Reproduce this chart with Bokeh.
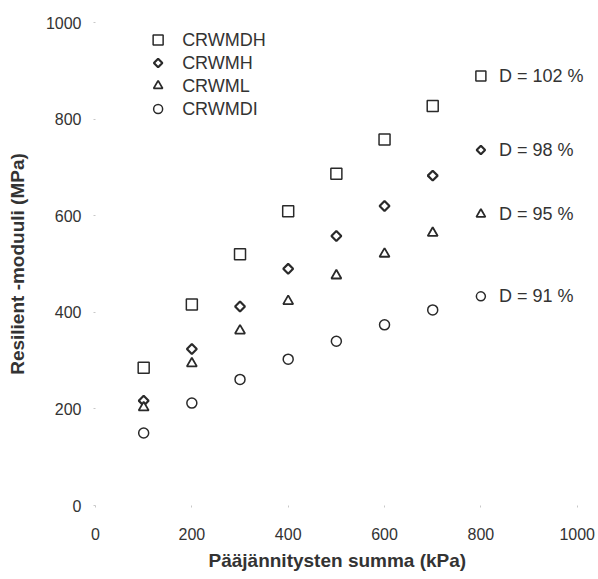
import math
from bokeh.plotting import figure
from bokeh.models import Range1d, ColumnDataSource, LabelSet, Title
from bokeh.core.properties import value
from bokeh.embed import file_html
from bokeh.resources import INLINE

# data
x_vals = [100, 200, 300, 400, 500, 600, 700]
crwmdh = [285, 416, 520, 609, 687, 758, 827]
crwmh = [217, 324, 412, 490, 558, 620, 683]
crwml = [203, 294, 362, 423, 476, 521, 564]
crwmdi = [150, 212, 261, 303, 340, 374, 405]
series_names = ["CRWMDH", "CRWMH", "CRWML", "CRWMDI"]
annot_labels = ["D = 102 %", "D = 98 %", "D = 95 %", "D = 91 %"]
ticks = [0, 200, 400, 600, 800, 1000]
x_title = "Pääjännitysten summa (kPa)"
y_title = "Resilient -moduuli (MPa)"

# layout (annotation anchor positions, in axis units)
legend_x = [130, 130, 130, 130]
legend_y = [964, 916, 869, 821]
annot_x = [800, 800, 800, 800]
annot_y = [889, 736, 603, 433]

FONT = "Liberation Sans"
INK = "#2a2a2a"
TXT = "#333333"

# x range runs a little past 1000 (no visible axis line) so the right-hand labels are not clipped
p = figure(width=598, height=579, output_backend="svg", toolbar_location=None,
           x_range=Range1d(0, 1040), y_range=Range1d(0, 1000),
           min_border_left=95, min_border_right=2, min_border_top=22, min_border_bottom=74)
p.outline_line_color = None
p.grid.visible = False
p.background_fill_color = "white"

for ax in (p.xaxis[0], p.yaxis[0]):
    ax.ticker = ticks
    ax.axis_line_color = None
    ax.major_tick_in = 0
    ax.major_tick_out = 2
    ax.major_tick_line_color = "#c8c8c8"
    ax.minor_tick_line_color = None
    ax.major_label_text_font = FONT
    ax.major_label_text_font_size = "16px"
    ax.major_label_text_color = TXT
    ax.axis_label_text_font = FONT
    ax.axis_label_text_font_size = "19px"
    ax.axis_label_text_font_style = "bold"
    ax.axis_label_text_color = TXT

p.yaxis.axis_label = y_title
p.xaxis.major_label_standoff = 20
p.yaxis.major_label_standoff = 12
p.yaxis.axis_label_standoff = 15

# x-axis title, placed under the 0..1000 span (not the padded range)
p.add_layout(Title(text=x_title, align="left", offset=113, standoff=10,
                   text_font=FONT, text_font_size="19px", text_font_style="bold",
                   text_color=TXT), "below")

markers = ["square", "square", "triangle", "circle"]
angles = [0, math.pi / 4, 0, 0]
sizes = [11, 7, 10, 10]
widths = [1.5, 2.2, 1.8, 1.5]
series = [crwmdh, crwmh, crwml, crwmdi]
for name, m, a, s, w, ys in zip(series_names, markers, angles, sizes, widths, series):
    p.scatter(x_vals, ys, marker=m, angle=a, size=s, fill_color="white",
              line_color=INK, line_width=w, name=name)

# legend block (top left) and density annotations (right)
for i, m in enumerate(markers):
    p.scatter([legend_x[i]], [legend_y[i]], marker=m, angle=angles[i], size=sizes[i] - 1,
              fill_color="white", line_color=INK, line_width=widths[i])
    p.scatter([annot_x[i]], [annot_y[i]], marker=m, angle=angles[i], size=sizes[i] - 1,
              fill_color="white", line_color=INK, line_width=widths[i])

leg_src = ColumnDataSource(dict(x=legend_x, y=legend_y, t=series_names))
p.add_layout(LabelSet(x="x", y="y", text="t", source=leg_src, x_offset=24,
                      text_baseline="middle", text_font=value(FONT),
                      text_font_size=value("18px"), text_color=TXT))
ann_src = ColumnDataSource(dict(x=annot_x, y=annot_y, t=annot_labels))
p.add_layout(LabelSet(x="x", y="y", text="t", source=ann_src, x_offset=18,
                      text_baseline="middle", text_font=value(FONT),
                      text_font_size=value("18px"), text_color=TXT))

open("out.html", "w").write(file_html(p, INLINE))
